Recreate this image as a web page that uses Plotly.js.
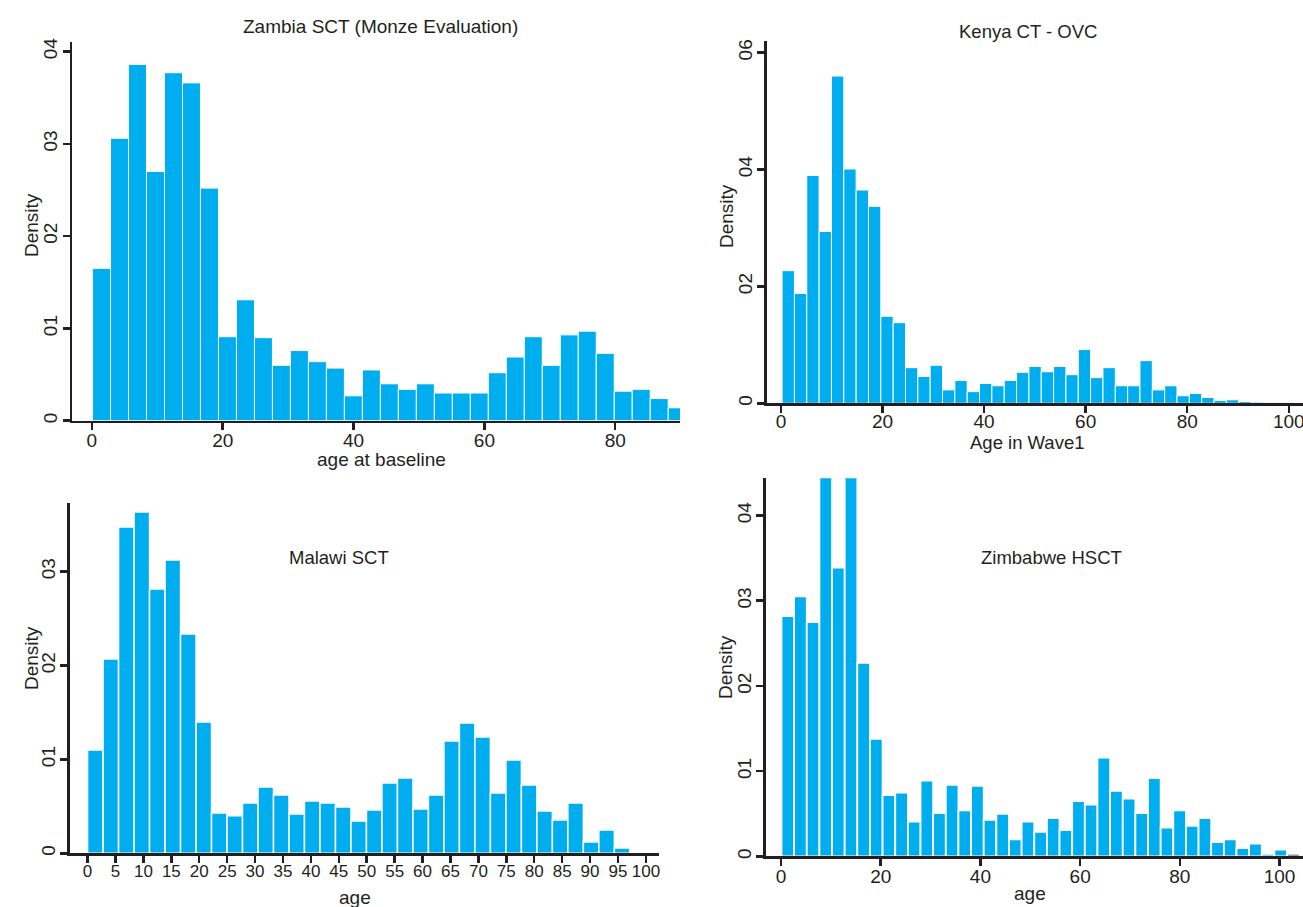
<!DOCTYPE html>
<html><head><meta charset="utf-8">
<script src="https://cdn.plot.ly/plotly-3.0.1.min.js"></script>
<style>html,body{margin:0;padding:0;background:#fff}</style>
</head><body><div id="chart" style="width:1303px;height:907px"></div>
<script>
// ---- data ----
const zambiaTitle = "Zambia SCT (Monze Evaluation)";
const zambiaXTitle = "age at baseline";
const zambiaBinStart = 0.1, zambiaBinWidth = 2.75;
const zambiaDensity = [0.0165,0.0306,0.0386,0.0270,0.0377,0.0366,0.0252,0.0091,0.0131,0.0090,0.0060,0.0076,0.0064,0.0057,0.0027,0.0055,0.0040,0.0034,0.0040,0.0030,0.0030,0.0030,0.0052,0.0069,0.0091,0.0060,0.0093,0.0097,0.0073,0.0032,0.0034,0.0024,0.0014];

const kenyaTitle = "Kenya CT - OVC";
const kenyaXTitle = "Age in Wave1";
const kenyaBinStart = 0.23, kenyaBinWidth = 2.43;
const kenyaDensity = [0.0227,0.0188,0.0390,0.0294,0.0560,0.0401,0.0365,0.0337,0.0149,0.0138,0.0061,0.0046,0.0065,0.0023,0.0039,0.0020,0.0034,0.0030,0.0039,0.0053,0.0063,0.0054,0.0063,0.0049,0.0092,0.0044,0.0061,0.0030,0.0030,0.0073,0.0023,0.0030,0.0013,0.0017,0.0010,0.0005,0.0006,0.0003,0.0002,0.0001,0.0001,0.0001];

const malawiTitle = "Malawi SCT";
const malawiXTitle = "age";
const malawiBinStart = 0, malawiBinWidth = 2.775;
const malawiDensity = [0.0110,0.0207,0.03475,0.03635,0.02815,0.03124,0.02336,0.01399,0.0043,0.0040,0.00536,0.00706,0.00621,0.00419,0.00557,0.00536,0.00493,0.00344,0.00461,0.00749,0.00802,0.00472,0.00621,0.01196,0.01388,0.01239,0.00643,0.00994,0.00728,0.00451,0.00355,0.00536,0.00121,0.00248,0.00057];

const zimTitle = "Zimbabwe HSCT";
const zimXTitle = "age";
const zimBinStart = 0.1, zimBinWidth = 2.535;
const zimDensity = [0.0282,0.0305,0.0275,0.0470,0.0339,0.0470,0.0227,0.0138,0.0072,0.0075,0.0041,0.0089,0.0051,0.0084,0.0054,0.0083,0.0043,0.0050,0.0020,0.0041,0.0029,0.0045,0.0031,0.0065,0.0061,0.0116,0.0077,0.0068,0.0051,0.0092,0.0034,0.0054,0.0036,0.0045,0.0017,0.0020,0.0010,0.0015,0.0003,0.0008,0.0003];

const yTitle = "Density";
const yTicks01 = [0, 0.01, 0.02, 0.03, 0.04];
const yTickText01 = ["0", "01", "02", "03", "04"];
const yTicks02 = [0, 0.02, 0.04, 0.06];
const yTickText02 = ["0", "02", "04", "06"];
const malawiXTicks = [0,5,10,15,20,25,30,35,40,45,50,55,60,65,70,75,80,85,90,95,100];

// ---- drawing ----
const BAR = "#00AEEF", INK = "#231f20";
const FONT = "Liberation Sans, Arial, sans-serif";
const W = 1303, H = 907;
function centers(start, width, n) {
  const c = [];
  for (let i = 0; i < n; i++) c.push(start + width * (i + 0.5));
  return c;
}
function hist(vals, start, width, xa, ya, lw, colors) {
  return {
    type: "bar", x: centers(start, width, vals.length), y: vals, width: width,
    xaxis: xa, yaxis: ya, hoverinfo: "x+y", showlegend: false,
    marker: {color: colors || BAR, line: {color: "#ffffff", width: lw}}
  };
}
const zimColors = zimDensity.map((v, i) => i === zimDensity.length - 1 ? "#2b2f6e" : BAR);

const data = [
  hist(zambiaDensity, zambiaBinStart, zambiaBinWidth, "x", "y", 1),
  hist(kenyaDensity, kenyaBinStart, kenyaBinWidth, "x2", "y2", 1),
  hist(malawiDensity, malawiBinStart, malawiBinWidth, "x3", "y3", 1.5),
  hist(zimDensity, zimBinStart, zimBinWidth, "x4", "y4", 1.8, zimColors)
];

function xax(dom, range, extra) {
  return Object.assign({
    domain: dom, range: range, showline: true, linecolor: INK, linewidth: 2.5,
    ticks: "outside", ticklen: 7, tickwidth: 2.5, tickcolor: INK,
    showgrid: false, zeroline: false, tickangle: 0, ticklabeloverflow: "allow",
    ticklabelstandoff: -6,
    tickfont: {family: FONT, size: 19, color: INK},
    tickmode: "linear", tick0: 0, dtick: 20, fixedrange: true
  }, extra || {});
}
function yax(dom, range, tv, tt, anchor) {
  return {
    domain: dom, range: range, anchor: anchor, showline: true, linecolor: INK, linewidth: 2.5,
    ticks: "outside", ticklen: 7, tickwidth: 2.5, tickcolor: INK,
    showgrid: false, zeroline: false, tickangle: -90, ticklabelstandoff: -2,
    tickmode: "array", tickvals: tv, ticktext: tt,
    tickfont: {family: FONT, size: 19, color: INK},
    fixedrange: true
  };
}
function label(text, px, py, size, rot) {
  return {text: text, xref: "paper", yref: "paper", x: px / W, y: 1 - py / H,
    showarrow: false, xanchor: "center", yanchor: "middle", textangle: rot || 0,
    font: {family: FONT, size: size, color: INK}};
}

const layout = {
  width: W, height: H,
  margin: {l: 0, r: 0, t: 0, b: 0},
  paper_bgcolor: "#ffffff", plot_bgcolor: "#ffffff",
  bargap: 0,
  xaxis: xax([0.05526, 0.52187], [-3.04, 89.9], {anchor: "y"}),
  yaxis: yax([0.53616, 0.95402], [0, 0.04106], yTicks01, yTickText01, "x"),
  xaxis2: xax([0.58841, 1], [-2.8, 102.8], {anchor: "y2", ticklabelstandoff: -8}),
  yaxis2: yax([0.55534, 0.9548], [0, 0.062], yTicks02, yTickText02, "x2"),
  xaxis3: xax([0.05372, 0.50599], [-3.15, 102.4],
    {anchor: "y3", tickmode: "array", tickvals: malawiXTicks, ticktext: malawiXTicks.map(String),
     tickfont: {family: FONT, size: 17, color: INK}}),
  yaxis3: yax([0.05921, 0.44576], [0, 0.03734], yTicks01.slice(0, 4), yTickText01.slice(0, 4), "x3"),
  xaxis4: xax([0.58764, 1], [-3.07, 104.7], {anchor: "y4"}),
  yaxis4: yax([0.05568, 0.47265], [0, 0.04436], yTicks01, yTickText01, "x4"),
  annotations: [
    label(zambiaTitle, 380, 27, 19),
    label(kenyaTitle, 1028, 31, 18.5),
    label(malawiTitle, 339, 557, 18.5),
    label(zimTitle, 1051, 557, 18.5),
    label(zambiaXTitle, 381, 460, 19),
    label(kenyaXTitle, 1027, 442, 18.5),
    label(malawiXTitle, 355, 897, 19),
    label(zimXTitle, 1030, 893, 19),
    label(yTitle, 32, 225, 19, -90),
    label(yTitle, 726, 216, 19, -90),
    label(yTitle, 31, 658, 19, -90),
    label(yTitle, 725, 667, 19, -90)
  ]
};

Plotly.newPlot("chart", data, layout, {displayModeBar: false, staticPlot: true});
</script>
</body></html>
